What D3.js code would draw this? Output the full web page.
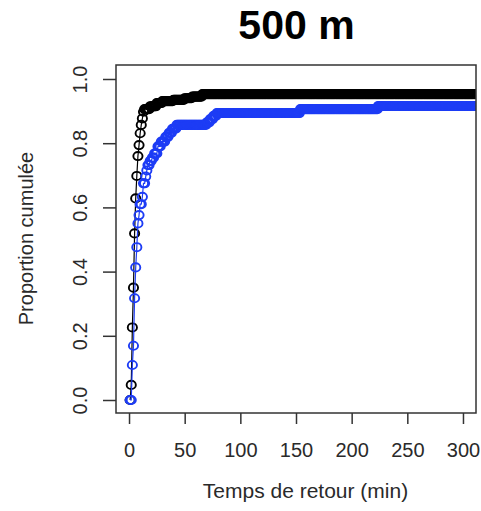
<!DOCTYPE html>
<html>
<head>
<meta charset="utf-8">
<script src="https://cdn.jsdelivr.net/npm/d3@7"></script>
<style>
  html, body { margin: 0; padding: 0; background: #fff; }
  svg { display: block; }
</style>
</head>
<body>
<svg id="chart" width="481" height="511"></svg>
<script>
// ---- data ----
const titleText = "500 m";
const xLabel = "Temps de retour (min)";
const yLabel = "Proportion cumulée";
const xTicks = [0, 50, 100, 150, 200, 250, 300];
const yTicks = [0, 0.2, 0.4, 0.6, 0.8, 1.0];

// cumulative proportion: breakpoints (minute, proportion reached)
const blackTimes = [1, 2, 3, 4, 5, 6, 7, 8, 9, 10, 11, 12, 13, 14, 19, 25, 30, 40, 50, 57, 66];
const blackProps = [0, 0.047, 0.226, 0.35, 0.519, 0.628, 0.698, 0.76, 0.794, 0.831, 0.857, 0.877, 0.898, 0.906, 0.915, 0.925, 0.931, 0.935, 0.94, 0.945, 0.953];

const blueTimes = [1, 3, 4, 5, 6, 7, 8, 9, 10, 12, 13, 15, 16, 17, 19, 21, 23, 26, 29, 33, 36, 39, 43, 70, 73, 76, 79, 154, 224];
const blueProps = [0, 0.109, 0.169, 0.317, 0.413, 0.476, 0.55, 0.576, 0.61, 0.633, 0.675, 0.696, 0.715, 0.732, 0.745, 0.755, 0.768, 0.79, 0.805, 0.82, 0.832, 0.845, 0.857, 0.865, 0.875, 0.885, 0.894, 0.906, 0.916];

const minutes = d3.range(1, 321); // evaluation grid, one point per minute

// ---- drawing ----
const svg = d3.select("#chart");
const pLeft = 116, pRight = 476, pTop = 65, pBottom = 413;

const x = d3.scaleLinear().domain([-11.7, 311.7]).range([pLeft, pRight]);
const y = d3.scaleLinear().domain([-0.0405, 1.0436]).range([pBottom, pTop]);

function stepSeries(times, props) {
  return minutes.map(t => {
    const i = d3.bisectRight(times, t) - 1;
    return [t, i >= 0 ? props[i] : 0];
  });
}

svg.append("defs").append("clipPath").attr("id", "plotclip")
  .append("rect").attr("x", pLeft).attr("y", pTop)
  .attr("width", pRight - pLeft).attr("height", pBottom - pTop);

const plot = svg.append("g").attr("clip-path", "url(#plotclip)");
const line = d3.line().x(d => x(d[0])).y(d => y(d[1]));

const series = [
  { pts: stepSeries(blackTimes, blackProps), color: "#000000" },
  { pts: stepSeries(blueTimes, blueProps), color: "#1d3cf5" }
];

series.forEach(s => {
  plot.append("path").datum(s.pts)
    .attr("d", line).attr("fill", "none")
    .attr("stroke", s.color).attr("stroke-width", 1.2);
  plot.append("g").selectAll("ellipse").data(s.pts).join("ellipse")
    .attr("cx", d => x(d[0])).attr("cy", d => y(d[1]))
    .attr("rx", 4.6).attr("ry", 4.1)
    .attr("fill", "none").attr("stroke", s.color).attr("stroke-width", 1.9);
});

// frame
svg.append("rect").attr("x", pLeft).attr("y", pTop)
  .attr("width", pRight - pLeft).attr("height", pBottom - pTop)
  .attr("fill", "none").attr("stroke", "#333").attr("stroke-width", 1.5);

// x axis
const gx = svg.append("g").attr("transform", `translate(0,${pBottom})`)
  .call(d3.axisBottom(x).tickValues(xTicks).tickSize(11).tickFormat(d3.format("d")));
gx.select(".domain").remove();
gx.selectAll(".tick line").attr("stroke", "#333").attr("stroke-width", 1.5);
gx.selectAll(".tick text").attr("y", 44).attr("dy", 0)
  .attr("font-family", "'Liberation Sans', Arial, sans-serif")
  .attr("font-size", 20).attr("fill", "#2a2a2a");

// y axis
const gy = svg.append("g").attr("transform", `translate(${pLeft},0)`)
  .call(d3.axisLeft(y).tickValues(yTicks).tickSize(13).tickFormat(d3.format(".1f")));
gy.select(".domain").remove();
gy.selectAll(".tick line").attr("stroke", "#333").attr("stroke-width", 1.5);
gy.selectAll(".tick text")
  .attr("x", 0).attr("y", 0).attr("dy", 0)
  .attr("transform", "translate(-29,0) rotate(-90)")
  .attr("text-anchor", "middle")
  .attr("font-family", "'Liberation Sans', Arial, sans-serif")
  .attr("font-size", 20).attr("fill", "#2a2a2a");

// titles
svg.append("text").attr("x", 296.5).attr("y", 38.5)
  .attr("text-anchor", "middle")
  .attr("font-family", "'Liberation Sans', Arial, sans-serif")
  .attr("font-weight", "bold").attr("font-size", 41).attr("fill", "#000")
  .text(titleText);

svg.append("text").attr("x", 305.5).attr("y", 498)
  .attr("text-anchor", "middle")
  .attr("font-family", "'Liberation Sans', Arial, sans-serif")
  .attr("font-size", 21).attr("fill", "#2a2a2a")
  .text(xLabel);

svg.append("text")
  .attr("transform", "translate(33,238.5) rotate(-90)")
  .attr("text-anchor", "middle")
  .attr("font-family", "'Liberation Sans', Arial, sans-serif")
  .attr("font-size", 20).attr("fill", "#2a2a2a")
  .text(yLabel);
</script>
</body>
</html>
